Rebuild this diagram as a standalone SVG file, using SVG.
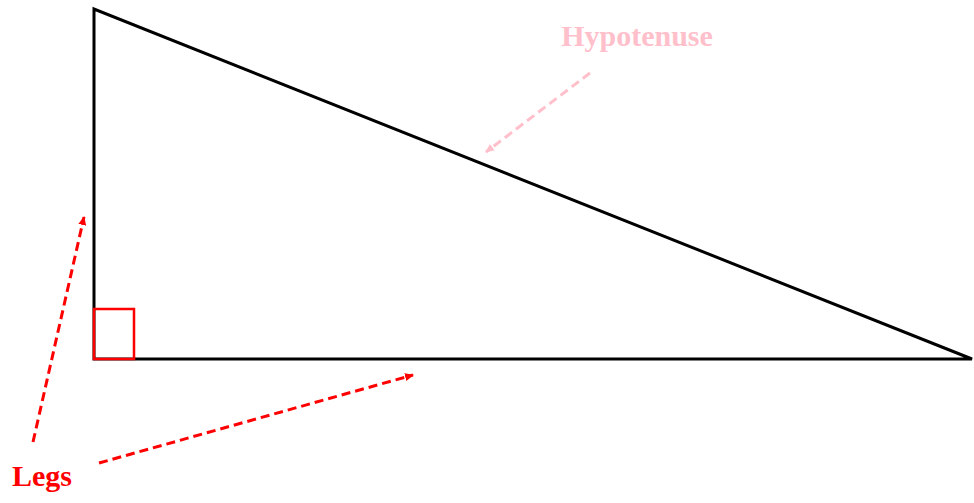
<svg xmlns="http://www.w3.org/2000/svg" width="974" height="503" viewBox="0 0 974 503">
<style>
.lbl{font-family:"Liberation Serif","Times New Roman",serif;font-weight:bold;font-size:30px}
.red{stroke:#ff0000;stroke-width:3;stroke-dasharray:9,5;fill:none}
.pink{stroke:#ffc0cb;stroke-width:3;stroke-dasharray:9,5;fill:none}
</style>
<defs>
<marker id="ar" markerWidth="10" markerHeight="10" refX="8" refY="5" orient="auto" markerUnits="userSpaceOnUse"><path d="M0,1 L9,5 L0,9 Z" fill="#ff0000"/></marker>
<marker id="ap" markerWidth="10" markerHeight="10" refX="8" refY="5" orient="auto" markerUnits="userSpaceOnUse"><path d="M0,1 L9,5 L0,9 Z" fill="#ffc0cb"/></marker>
</defs>
<rect width="974" height="503" fill="#ffffff"/>
<g id="triangle">
<polygon points="94,9 94,359 972,359" fill="none" stroke="#000000" stroke-width="3" stroke-linejoin="miter"/>
</g>
<g id="right-angle">
<rect x="94" y="309" width="40" height="50" fill="none" stroke="#ff0000" stroke-width="2.5"/>
</g>
<g id="connectors">
<line class="red" x1="33" y1="442" x2="84" y2="217" marker-end="url(#ar)"/>
<line class="red" x1="99" y1="463" x2="413" y2="375" marker-end="url(#ar)"/>
<line class="pink" x1="590" y1="73" x2="486" y2="152" marker-end="url(#ap)"/>
</g>
<g id="hypotenuse-label"><text class="lbl" x="637" y="46" text-anchor="middle" fill="#ffc0cb">Hypotenuse</text></g>
<g id="legs-label"><text class="lbl" x="42" y="486" text-anchor="middle" fill="#ff0000">Legs</text></g>
</svg>
